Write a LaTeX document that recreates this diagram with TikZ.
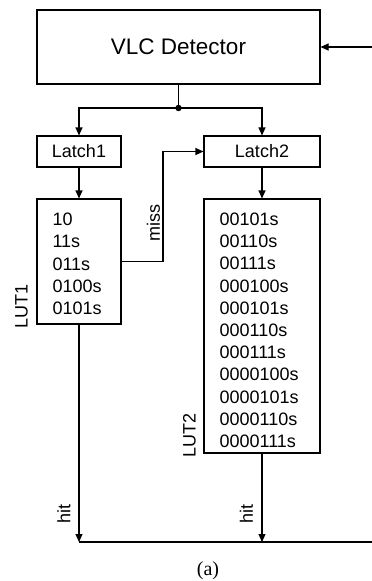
\documentclass[tikz,border=0pt]{standalone}
\usepackage{fontspec}
\setmainfont{Liberation Sans}
\newfontfamily\capfont{Liberation Serif}
\usetikzlibrary{arrows.meta}
\begin{document}
\begin{tikzpicture}[x=1pt,y=-1pt,
  line width=1.1pt,
  box/.style={draw,rectangle,inner sep=0pt,line width=1.1pt},
  lbl/.style={inner sep=0pt,font=\fontsize{18}{22}\selectfont},
  lutlist/.style={inner sep=0pt,anchor=base west,align=left,font=\fontsize{18}{22.2}\selectfont},
  arr/.style={-{Triangle[length=8pt,width=7pt]}}]
\useasboundingbox (0,0) rectangle (372,581);
% boxes
\node[box,minimum width=283pt,minimum height=74pt,font=\fontsize{22.5}{27}\selectfont] (det) at (178.5,47) {VLC Detector};
\node[box,minimum width=84pt,minimum height=31pt,font=\fontsize{18}{22}\selectfont] (latch1) at (79,151.5) {Latch1};
\node[box,minimum width=116pt,minimum height=31pt,font=\fontsize{18}{22}\selectfont] (latch2) at (262,151.5) {Latch2};
\node[box,minimum width=84pt,minimum height=125pt] (lut1) at (79,261.5) {};
\node[box,minimum width=116pt,minimum height=254pt] (lut2) at (262,326) {};
% lut contents (base anchor = last line)
\node[lutlist] (lut1txt) at (52,314.5) {10\\11s\\011s\\0100s\\0101s};
\node[lutlist] (lut2txt) at (219,447.5) {00101s\\00110s\\00111s\\000100s\\000101s\\000110s\\000111s\\0000100s\\0000101s\\0000110s\\0000111s};
% labels
\node[lbl,rotate=90] (lut1lbl) at (21.5,306.5) {LUT1};
\node[lbl,rotate=90] (lut2lbl) at (189.5,435) {LUT2};
\node[lbl,rotate=90] (misslbl) at (153.5,223) {miss};
\node[lbl,rotate=90] (hit1lbl) at (64,514) {hit};
\node[lbl,rotate=90] (hit2lbl) at (246.5,514) {hit};
\node[inner sep=0pt,font=\capfont\fontsize{20}{24}\selectfont] (cap) at (208,571) {(a)};
% coordinates
\coordinate (inp) at (372,47);
\coordinate (junc) at (178.5,108);
\coordinate (mc) at (163,261.5);
\coordinate (b1) at (79,542);
\coordinate (out) at (372,542);
% connectors
\draw[arr] (inp) -- (det.east);
\draw (det.south) -- (junc);
\fill (junc) circle (3.2pt);
\draw[arr] (junc) -| (latch1.north);
\draw[arr] (junc) -| (latch2.north);
\draw[arr] (latch1.south) -- (lut1.north);
\draw[arr] (latch2.south) -- (lut2.north);
\draw[arr] (lut1.east) -- (mc) |- (latch2.west);
\draw[arr] (lut1.south) -- (b1);
\draw[arr] (lut2.south) -- (lut2.south |- b1);
\draw (b1) -- (out);
\end{tikzpicture}
\end{document}
